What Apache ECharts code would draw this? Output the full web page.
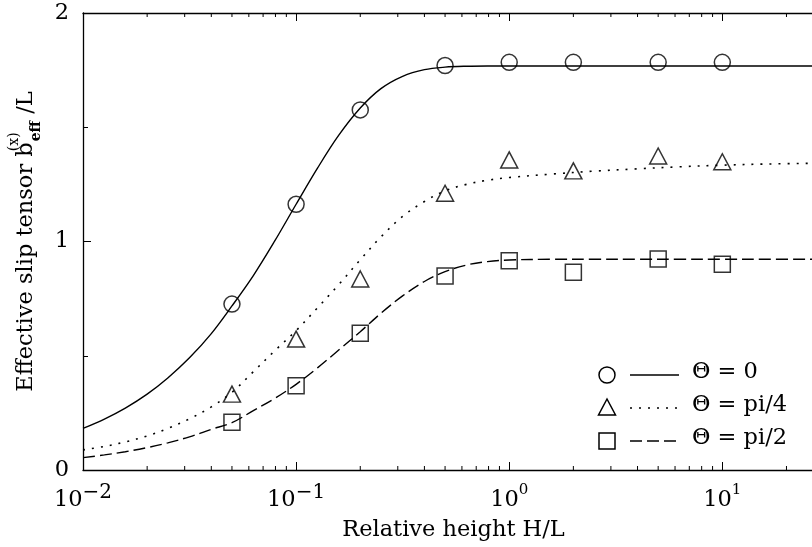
<!DOCTYPE html>
<html>
<head>
<meta charset="utf-8">
<script src="https://cdn.jsdelivr.net/npm/echarts@6/dist/echarts.min.js"></script>
<style>
html,body{margin:0;padding:0;background:#fff;}
#chart{width:812px;height:547px;}
</style>
</head>
<body>
<div id="chart"></div>
<script>
// ---- data: measured points ----
const hValues = [0.05, 0.1, 0.2, 0.5, 1, 2, 5, 10];
const theta0Points = [0.726, 1.163, 1.576, 1.770, 1.784, 1.784, 1.784, 1.784];
const thetaQuarterPoints = [0.332, 0.573, 0.836, 1.211, 1.357, 1.309, 1.374, 1.349];
const thetaHalfPoints = [0.209, 0.369, 0.598, 0.849, 0.916, 0.865, 0.923, 0.900];

// ---- data: fitted curves ----
const curveH = [0.01, 0.0126, 0.0158, 0.02, 0.025, 0.0316, 0.04, 0.05, 0.063, 0.079, 0.1, 0.126, 0.158, 0.2, 0.25, 0.316, 0.4, 0.5, 0.63, 0.79, 1, 1.58, 2.5, 4, 6.3, 10, 16, 30];
const theta0Curve = [0.182, 0.223, 0.271, 0.332, 0.403, 0.491, 0.597, 0.718, 0.851, 0.999, 1.163, 1.321, 1.463, 1.584, 1.669, 1.723, 1.752, 1.763, 1.767, 1.768, 1.768, 1.768, 1.768, 1.768, 1.768, 1.768, 1.768, 1.768];
const thetaQuarterCurve = [0.088, 0.103, 0.123, 0.149, 0.182, 0.224, 0.276, 0.340, 0.430, 0.520, 0.610, 0.710, 0.810, 0.920, 1.020, 1.110, 1.175, 1.222, 1.250, 1.268, 1.280, 1.295, 1.308, 1.318, 1.327, 1.334, 1.339, 1.343];
const thetaHalfCurve = [0.054, 0.066, 0.080, 0.098, 0.119, 0.145, 0.178, 0.207, 0.260, 0.312, 0.375, 0.447, 0.524, 0.605, 0.686, 0.762, 0.825, 0.868, 0.897, 0.912, 0.919, 0.922, 0.922, 0.922, 0.922, 0.922, 0.922, 0.922];

const legendLabels = ['\u0398 = 0', '\u0398 = pi/4', '\u0398 = pi/2'];
const xName = 'Relative height H/L';
const yTickValues = [0, 1, 2];

// ---- helpers ----
const FONT = 'DejaVu Serif';
const FS = 22.5;
const pair = (xs, ys) => xs.map((x, i) => [x, ys[i]]);
const minorTicks = [];
for (let e = -2; e <= 1; e++) {
  for (let m = 2; m <= 9; m++) {
    const v = m * Math.pow(10, e);
    if (v <= 30) minorTicks.push([v]);
  }
}

const chart = echarts.init(document.getElementById('chart'), null, {renderer: 'canvas'});

const axisLineStyle = {color: '#000', width: 1.3};
const markerStyle = {color: 'rgba(0,0,0,0)', borderColor: '#000', borderWidth: 1.5};

const option = {
  animation: false,
  backgroundColor: '#fff',
  grid: {left: 83, top: 13, width: 741, height: 457, outerBoundsMode: 'none', containLabel: false},
  xAxis: [
    {
      type: 'log', logBase: 10, min: 0.01, max: 30, position: 'bottom',
      axisLine: {show: true, lineStyle: axisLineStyle},
      axisTick: {show: true, inside: true, length: 8, lineStyle: {color: '#000', width: 1}},
      minorTick: {show: false},
      splitLine: {show: false},
      axisLabel: {
        show: true, margin: 13, color: '#000', fontFamily: FONT, fontSize: FS,
        showMaxLabel: false,
        formatter: function (v) {
          const l = Math.log10(v);
          const e = Math.round(l);
          if (Math.abs(l - e) > 1e-6) return '';
          if (e < 0) return '{b|10}{n|\u2212' + (-e) + '}';
          return '{b|10}{s|' + e + '}';
        },
        rich: {
          b: {fontFamily: FONT, fontSize: FS, color: '#000', lineHeight: 29, verticalAlign: 'bottom'},
          n: {fontFamily: FONT, fontSize: 20, color: '#000', lineHeight: 29, verticalAlign: 'top'},
          s: {fontFamily: FONT, fontSize: 15, color: '#000', lineHeight: 29, verticalAlign: 'top'}
        }
      },
      name: xName, nameLocation: 'middle', nameGap: 49,
      nameTextStyle: {fontFamily: FONT, fontSize: FS, color: '#000'}
    },
    {
      type: 'log', logBase: 10, min: 0.01, max: 30, position: 'top',
      axisLine: {show: true, lineStyle: axisLineStyle},
      axisTick: {show: true, inside: true, length: 8, lineStyle: {color: '#000', width: 1}},
      axisLabel: {show: false},
      splitLine: {show: false}
    }
  ],
  yAxis: [
    {
      type: 'value', min: 0, max: 2, interval: 1,
      axisLine: {show: true, lineStyle: axisLineStyle},
      axisTick: {show: true, inside: true, length: 8, lineStyle: {color: '#000', width: 1}},
      minorTick: {show: true, splitNumber: 2, length: 5, lineStyle: {color: '#000', width: 1}},
      splitLine: {show: false},
      axisLabel: {
        margin: 14, color: '#000', fontFamily: FONT, fontSize: FS,
        formatter: function (v) { return yTickValues.indexOf(v) >= 0 ? String(v) : ''; }
      },
      name: 'Effective slip tensor b{sup|(x)}{sub|eff} /L',
      nameLocation: 'middle', nameRotate: 90, nameGap: 33,
      nameTextStyle: {
        fontFamily: FONT, fontSize: FS, color: '#000', lineHeight: 36,
        rich: {
          sup: {fontFamily: FONT, fontSize: 14, color: '#000', verticalAlign: 'top', lineHeight: 16, width: 1},
          sub: {fontFamily: FONT, fontSize: 14, color: '#000', verticalAlign: 'bottom', lineHeight: 22, fontWeight: 'bold'}
        }
      }
    }
  ],
  series: [
    {
      name: 'minor ticks', type: 'custom', silent: true, clip: false, xAxisIndex: 0, yAxisIndex: 0,
      data: minorTicks,
      renderItem: function (params, api) {
        const v = api.value(0);
        const b = api.coord([v, 0]);
        const t = api.coord([v, 2]);
        const st = {stroke: '#000', lineWidth: 1};
        return {type: 'group', children: [
          {type: 'line', shape: {x1: b[0], y1: b[1], x2: b[0], y2: b[1] - 4}, style: st},
          {type: 'line', shape: {x1: t[0], y1: t[1], x2: t[0], y2: t[1] + 4}, style: st}
        ]};
      }
    },
    {
      name: legendLabels[0] + ' fit', type: 'line', data: pair(curveH, theta0Curve),
      showSymbol: false, smooth: 0.35, silent: true,
      lineStyle: {color: '#000', width: 1.4, type: 'solid'}
    },
    {
      name: legendLabels[1] + ' fit', type: 'line', data: pair(curveH, thetaQuarterCurve),
      showSymbol: false, smooth: 0.35, silent: true,
      lineStyle: {color: '#000', width: 1.6, type: [2, 7], cap: 'butt'}
    },
    {
      name: legendLabels[2] + ' fit', type: 'line', data: pair(curveH, thetaHalfCurve),
      showSymbol: false, smooth: 0.35, silent: true,
      lineStyle: {color: '#000', width: 1.4, type: [12, 5]}
    },
    {
      name: legendLabels[0], type: 'scatter', data: pair(hValues, theta0Points),
      symbol: 'circle', symbolSize: 16, itemStyle: markerStyle
    },
    {
      name: legendLabels[1], type: 'scatter', data: pair(hValues, thetaQuarterPoints),
      symbol: 'triangle', symbolSize: [17, 16], itemStyle: markerStyle
    },
    {
      name: legendLabels[2], type: 'scatter', data: pair(hValues, thetaHalfPoints),
      symbol: 'rect', symbolSize: 16, itemStyle: markerStyle
    }
  ],
  graphic: [
    {type: 'circle', shape: {cx: 607, cy: 375, r: 8}, style: {fill: 'none', stroke: '#000', lineWidth: 1.5}},
    {type: 'line', shape: {x1: 630, y1: 375, x2: 679, y2: 375}, style: {stroke: '#000', lineWidth: 1.4}},
    {type: 'text', left: 692, top: 361, style: {text: legendLabels[0], fontFamily: FONT, fontSize: FS, fill: '#000'}},

    {type: 'polygon', shape: {points: [[607, 399], [598.5, 415], [615.5, 415]]}, style: {fill: 'none', stroke: '#000', lineWidth: 1.5}},
    {type: 'line', shape: {x1: 630, y1: 408, x2: 679, y2: 408}, style: {stroke: '#000', lineWidth: 1.6, lineDash: [2, 7]}},
    {type: 'text', left: 692, top: 394, style: {text: legendLabels[1], fontFamily: FONT, fontSize: FS, fill: '#000'}},

    {type: 'rect', shape: {x: 599, y: 433, width: 16, height: 16}, style: {fill: 'none', stroke: '#000', lineWidth: 1.5}},
    {type: 'line', shape: {x1: 630, y1: 441, x2: 679, y2: 441}, style: {stroke: '#000', lineWidth: 1.4, lineDash: [12, 5]}},
    {type: 'text', left: 692, top: 427, style: {text: legendLabels[2], fontFamily: FONT, fontSize: FS, fill: '#000'}}
  ]
};

chart.setOption(option);
</script>
</body>
</html>
